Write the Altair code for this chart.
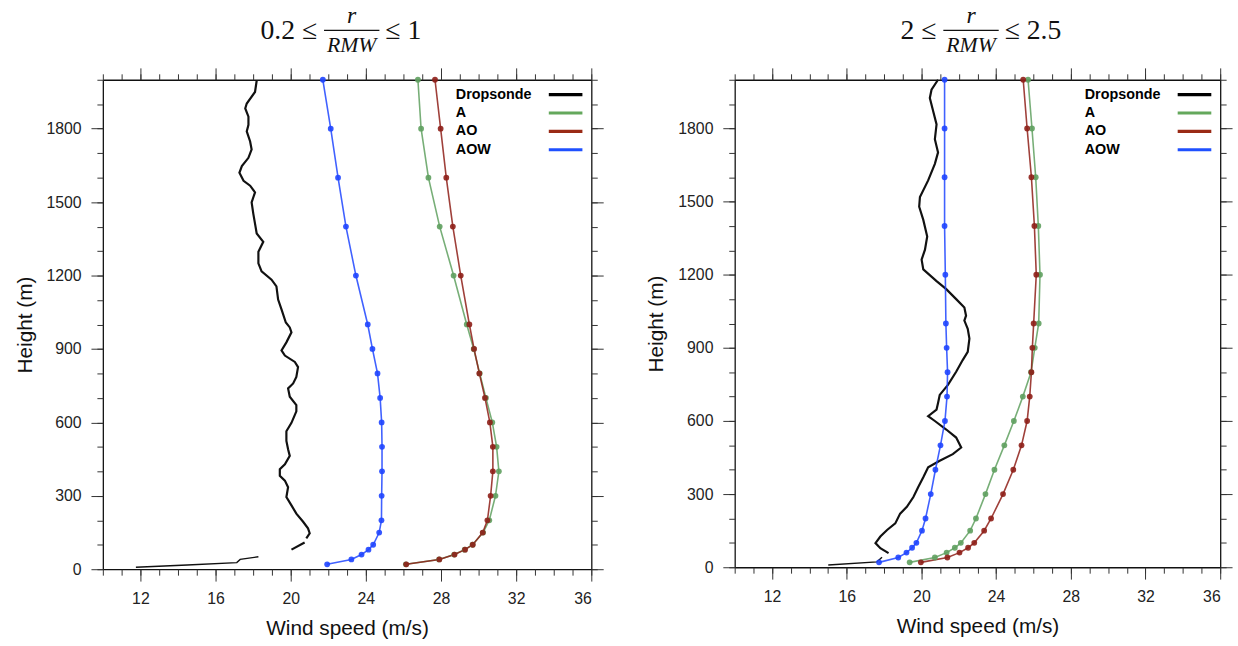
import altair as alt
import pandas as pd

# ---------------------------------------------------------------------------
# Model levels (m) shared by all simulated profiles
HEIGHTS = [20, 40, 60, 80, 100, 150, 200, 300, 400, 500, 600, 700, 800, 900,
           1000, 1200, 1400, 1600, 1800, 2000]

# Inner-core composite, 0.2 <= r/RMW <= 1 (wind speed, m/s)
L_A = [26.13, 27.90, 28.70, 29.26, 29.68, 30.24, 30.57, 30.90, 31.08, 30.96,
       30.73, 30.39, 30.06, 29.74, 29.37, 28.67, 27.93, 27.33, 26.94, 26.77]
L_AO = [26.15, 27.91, 28.72, 29.28, 29.69, 30.22, 30.47, 30.64, 30.76, 30.76,
        30.60, 30.34, 30.04, 29.76, 29.51, 29.05, 28.63, 28.28, 27.98, 27.68]
L_AOW = [21.94, 23.23, 23.77, 24.14, 24.39, 24.71, 24.83, 24.84, 24.86, 24.86,
         24.84, 24.76, 24.62, 24.35, 24.10, 23.47, 22.94, 22.52, 22.13, 21.71]

# Outer composite, 2 <= r/RMW <= 2.5 (wind speed, m/s)
R_A = [19.37, 20.72, 21.35, 21.79, 22.11, 22.61, 22.92, 23.43, 23.91, 24.44,
       24.95, 25.43, 25.87, 26.07, 26.28, 26.35, 26.26, 26.12, 25.92, 25.71]
R_AO = [19.97, 21.39, 22.04, 22.50, 22.83, 23.36, 23.73, 24.37, 24.92, 25.36,
        25.66, 25.80, 25.89, 25.94, 26.01, 26.15, 26.05, 25.89, 25.66, 25.45]
R_AOW = [17.73, 18.76, 19.20, 19.50, 19.73, 20.03, 20.22, 20.50, 20.75, 21.02,
         21.26, 21.37, 21.40, 21.35, 21.31, 21.28, 21.24, 21.24, 21.24, 21.24]

# Dropsonde composite profiles (height m, speed m/s, segment id for gaps)
L_SONDE_H = [8, 17, 27, 40, 51,
             80, 109,
             126, 147, 167, 194, 227, 261, 295, 335, 362, 382, 409, 429, 463,
             490, 524, 564, 598, 645, 671, 705, 739, 759, 786, 826, 847, 873,
             894, 927, 968, 988, 1008, 1062, 1102, 1156, 1183, 1217, 1250,
             1297, 1338, 1372, 1412, 1452, 1499, 1540, 1567, 1587, 1620, 1647,
             1681, 1715, 1748, 1789, 1816, 1849, 1883, 1903, 1950, 1997]
L_SONDE_U = [11.76, 14.49, 17.13, 17.31, 18.28,
             20.04, 20.74,
             20.83, 21.01, 20.92, 20.66, 20.30, 20.04, 19.77, 19.86, 19.69,
             19.42, 19.42, 19.69, 19.95, 19.86, 19.77, 19.77, 20.04, 20.30,
             20.30, 19.95, 19.86, 20.13, 20.30, 20.39, 20.22, 19.69, 19.51,
             19.77, 20.04, 19.95, 19.74, 19.51, 19.33, 19.24, 18.98, 18.45,
             18.28, 18.28, 18.54, 18.19, 18.10, 18.01, 17.92, 18.10, 17.84,
             17.49, 17.27, 17.40, 17.75, 17.92, 17.84, 17.66, 17.75, 17.75,
             17.58, 17.66, 18.10, 18.19]
L_SONDE_SEG = [0] * 5 + [1] * 2 + [2] * 58

R_SONDE_H = [9, 22, 41,
             58, 78, 99, 126, 153, 180, 220, 248, 288, 329, 369, 410, 437, 464,
             491, 532, 565, 600, 620, 647, 674, 707, 748, 802, 850, 884, 938,
             978, 1012, 1032, 1066, 1100, 1141, 1174, 1222, 1262, 1303, 1357,
             1425, 1479, 1519, 1587, 1655, 1702, 1756, 1817, 1871, 1925, 1959,
             2000]
R_SONDE_U = [15.01, 17.62, 17.89,
             18.24, 17.80, 17.54, 17.80, 18.16, 18.60, 18.86, 19.22, 19.57,
             19.83, 20.10, 20.36, 20.98, 21.68, 22.13, 21.86, 21.33, 20.72,
             20.36, 20.81, 20.89, 20.98, 21.42, 21.86, 22.21, 22.48, 22.57,
             22.48, 22.30, 22.39, 22.30, 21.86, 21.33, 20.81, 20.10, 20.01,
             20.19, 20.31, 20.10, 19.88, 19.92, 20.36, 20.72, 20.89, 20.72,
             20.81, 20.63, 20.45, 20.54, 20.89]
R_SONDE_SEG = [0] * 3 + [1] * 50

SERIES = ["A", "AO", "AOW"]
SERIES_COLORS = ["#5fa05f", "#8e1f18", "#1f45ff"]
LEGEND_ITEMS = [("Dropsonde", "#000000"), ("A", "#64a85c"),
                ("AO", "#9a2a16"), ("AOW", "#1f50ff")]

MAJOR_X = [12, 16, 20, 24, 28, 32, 36]
MINOR_X = list(range(10, 37))
MAJOR_Y = [0, 300, 600, 900, 1200, 1500, 1800]
MINOR_Y = list(range(0, 2001, 100))

SANS = "Liberation Sans"
SERIF = "Liberation Serif"


def model_frame(a, ao, aow):
    rows = []
    for name, vals in zip(SERIES, [a, ao, aow]):
        for h, u in zip(HEIGHTS, vals):
            rows.append({"series": name, "height": h, "speed": u})
    return pd.DataFrame(rows)


def sonde_frame(hs, us, segs):
    return pd.DataFrame({"height": hs, "speed": us, "seg": segs})


def axis(orient, values, size, labels=False, title=None, domain=True):
    opts = dict(orient=orient, values=values, tickSize=size, grid=False,
                domain=domain, labels=labels, title=title,
                tickColor="#333333", tickWidth=1,
                domainColor="#111111", domainWidth=1.3)
    if labels:
        opts.update(labelFont=SANS, labelFontSize=16, labelColor="#222222",
                    labelPadding=10, format="d")
    if title:
        opts.update(titleFont=SANS, titleFontSize=21, titleFontWeight="normal",
                    titleColor="#111111", titlePadding=11)
    return alt.Axis(**opts)


def single(label):
    return alt.Chart(pd.DataFrame({"label": [label]}))


def panel(models, sonde, lhs, rhs, frac_c, legend_x, w, h):
    xs = alt.Scale(domain=[10, 36], nice=False, zero=False)
    ys = alt.Scale(domain=[0, 2000], nice=False, zero=False)
    cs = alt.Scale(domain=SERIES, range=SERIES_COLORS)

    def xe(ax):
        return alt.X("speed:Q", scale=xs, axis=ax)

    def ye(ax):
        return alt.Y("height:Q", scale=ys, axis=ax)

    sonde_line = alt.Chart(sonde).transform_filter(
        alt.datum.seg > 0
    ).mark_line(color="#111111", strokeWidth=2.2).encode(
        x=xe(axis("bottom", MAJOR_X, 12, labels=True, title="Wind speed (m/s)")),
        y=ye(axis("left", MAJOR_Y, 12, labels=True, title="Height (m)")),
        detail="seg:N",
        order="height:Q",
    )

    # sparse near-surface part of the sonde profile, drawn thinner
    sonde_low = alt.Chart(sonde).transform_filter(
        alt.datum.seg == 0
    ).mark_line(color="#111111", strokeWidth=1.4).encode(
        x=xe(None), y=ye(None), order="height:Q",
    )

    model_lines = alt.Chart(models).mark_line(
        strokeWidth=1.6, opacity=0.85
    ).encode(
        x=xe(axis("bottom", MINOR_X, 6, domain=False)),
        y=ye(axis("left", MINOR_Y, 6, domain=False)),
        color=alt.Color("series:N", scale=cs, legend=None),
        order="height:Q",
    )

    model_pts = alt.Chart(models).mark_circle(size=34, opacity=0.9).encode(
        x=xe(axis("top", MAJOR_X, 12)),
        y=ye(axis("right", MAJOR_Y, 12)),
        color=alt.Color("series:N", scale=cs, legend=None),
    )

    minor_frame = alt.Chart(models).mark_point(opacity=0).encode(
        x=xe(axis("top", MINOR_X, 6, domain=False)),
        y=ye(axis("right", MINOR_Y, 6, domain=False)),
    )

    layers = [sonde_line, sonde_low, model_lines, model_pts, minor_frame]

    # legend: labels on the left, line samples on the right
    for i, (name, col) in enumerate(LEGEND_ITEMS):
        yy = 15 + 18.6 * i
        layers.append(
            single(name).mark_text(
                font=SANS, fontSize=14.5, fontWeight="bold", color="#000000",
                align="left", baseline="middle"
            ).encode(x=alt.value(legend_x), y=alt.value(yy), text="label:N")
        )
        layers.append(
            single(name).mark_rule(color=col, strokeWidth=3.2).encode(
                x=alt.value(legend_x + 94), x2=alt.value(legend_x + 128),
                y=alt.value(yy)
            )
        )

    # panel heading written as an inequality with a stacked fraction
    layers.append(
        single(lhs).mark_text(font=SERIF, fontSize=28, align="right",
                              baseline="alphabetic", color="#111111")
        .encode(x=alt.value(frac_c - 35), y=alt.value(-41), text="label:N")
    )
    layers.append(
        single(rhs).mark_text(font=SERIF, fontSize=28, align="left",
                              baseline="alphabetic", color="#111111")
        .encode(x=alt.value(frac_c + 34), y=alt.value(-41), text="label:N")
    )
    layers.append(
        single("r").mark_text(font=SERIF, fontSize=24, fontStyle="italic",
                              align="center", baseline="alphabetic",
                              color="#111111")
        .encode(x=alt.value(frac_c), y=alt.value(-57), text="label:N")
    )
    layers.append(
        single("RMW").mark_text(font=SERIF, fontSize=22, fontStyle="italic",
                                align="center", baseline="alphabetic",
                                color="#111111")
        .encode(x=alt.value(frac_c), y=alt.value(-28.5), text="label:N")
    )
    layers.append(
        single("bar").mark_rule(color="#111111", strokeWidth=1.2).encode(
            x=alt.value(frac_c - 28), x2=alt.value(frac_c + 28),
            y=alt.value(-50)
        )
    )

    return alt.layer(*layers).resolve_axis(
        x="independent", y="independent"
    ).properties(width=w, height=h)


left = panel(model_frame(L_A, L_AO, L_AOW),
             sonde_frame(L_SONDE_H, L_SONDE_U, L_SONDE_SEG),
             "0.2 ≤", "≤ 1", 251.7, 357, 494, 495)
right = panel(model_frame(R_A, R_AO, R_AOW),
              sonde_frame(R_SONDE_H, R_SONDE_U, R_SONDE_SEG),
              "2 ≤", "≤ 2.5", 239, 354, 491, 493)

chart = alt.hconcat(left, right, spacing=42).configure_view(
    stroke=None
).properties(
    background="white",
    padding={"left": 14, "top": 1, "right": 5, "bottom": 5},
)

chart.save("out.html", embed_options={"renderer": "svg", "actions": False})
